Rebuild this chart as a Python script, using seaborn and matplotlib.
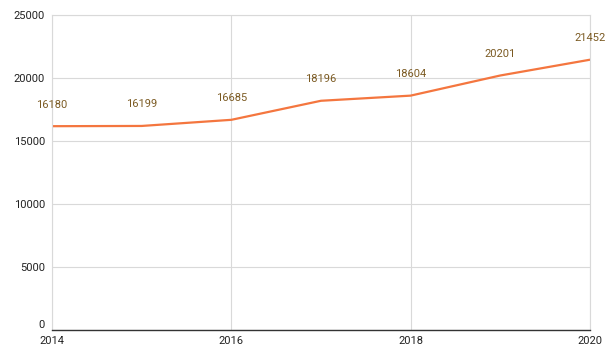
import matplotlib
matplotlib.use("Agg")
import matplotlib.pyplot as plt
import seaborn as sns
import pandas as pd

years = [2014, 2015, 2016, 2017, 2018, 2019, 2020]
values = [16180, 16199, 16685, 18196, 18604, 20201, 21452]
x_ticks = [2014, 2016, 2018, 2020]
y_ticks = [0, 5000, 10000, 15000, 20000, 25000]

df = pd.DataFrame({"year": years, "value": values})

sns.set_theme(style="white")
plt.rcParams["font.family"] = ["Roboto", "DejaVu Sans"]

fig = plt.figure(figsize=(6.05, 3.49), dpi=100)
ax = fig.add_axes([0.086, 0.054, 0.889, 0.903])

sns.lineplot(data=df, x="year", y="value", ax=ax, color="#f4763f", linewidth=1.6)

for x, y in zip(years, values):
    ax.annotate(str(y), (x, y), xytext=(0, 12), textcoords="offset points",
                ha="center", va="bottom", fontsize=8, color="#7b5a22")

ax.set_xlim(2014, 2020)
ax.set_ylim(0, 25000)
ax.set_xticks(x_ticks)
ax.set_yticks(y_ticks)
ax.set_xticklabels([str(t) for t in x_ticks])
ax.set_yticklabels([str(t) for t in y_ticks])
ax.set_xlabel("")
ax.set_ylabel("")
ax.grid(True, color="#d9d9d9", linewidth=0.8)
ax.tick_params(axis="both", labelsize=8, colors="#333333", length=0)
ax.tick_params(axis="x", pad=4.5)
ax.tick_params(axis="y", pad=5)
for t in ax.get_xticklabels():
    t.set_color("#222222")
for t in ax.get_yticklabels():
    t.set_color("#222222")
ax.get_yticklabels()[0].set_va("bottom")
for s in ["top", "right", "left"]:
    ax.spines[s].set_color("#d9d9d9")
    ax.spines[s].set_linewidth(0.8)
ax.spines["bottom"].set_color("#333333")
ax.spines["bottom"].set_linewidth(1)

fig.savefig("out.png", dpi=100)
